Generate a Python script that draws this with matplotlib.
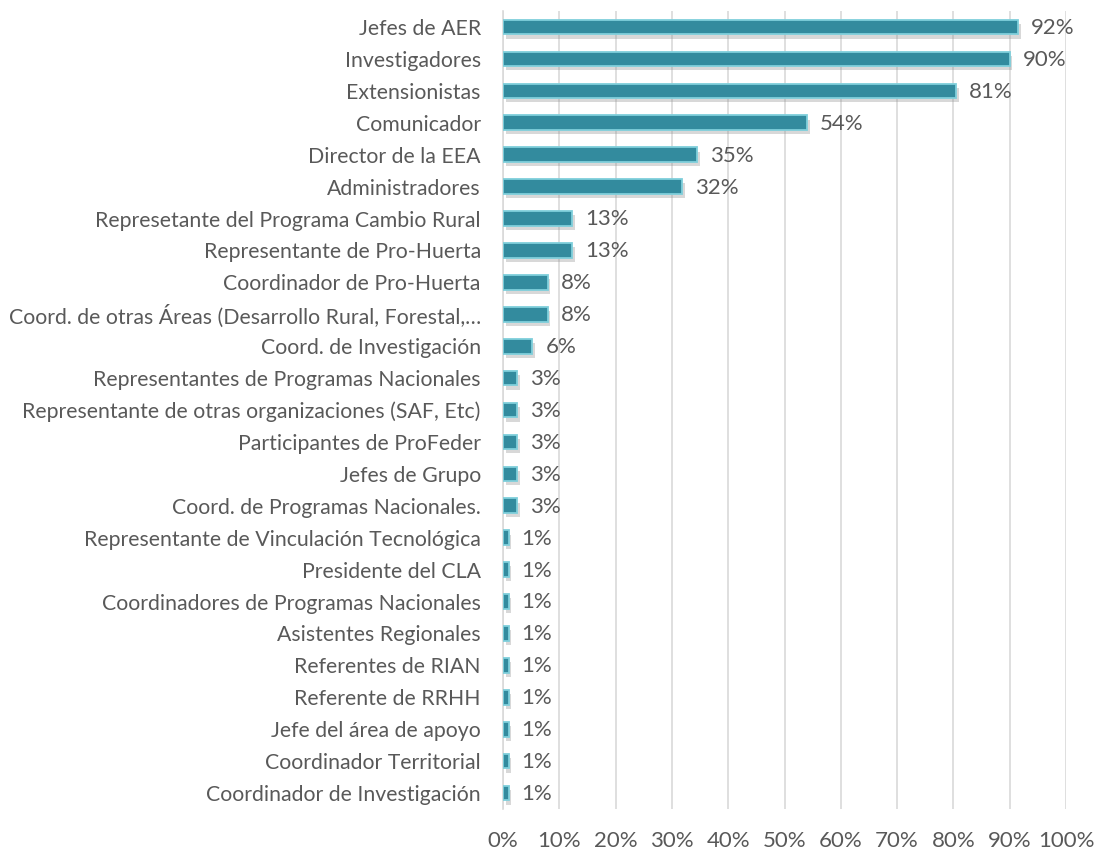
import matplotlib
matplotlib.use("Agg")
import matplotlib.pyplot as plt
import matplotlib.patheffects as pe
from matplotlib.ticker import PercentFormatter

categories = [
    "Jefes de AER", "Investigadores", "Extensionistas", "Comunicador",
    "Director de la EEA", "Administradores",
    "Represetante del Programa Cambio Rural", "Representante de Pro-Huerta",
    "Coordinador de Pro-Huerta",
    "Coord. de otras Áreas (Desarrollo Rural, Forestal,…",
    "Coord. de Investigación", "Representantes de Programas Nacionales",
    "Representante de otras organizaciones (SAF, Etc)",
    "Participantes de ProFeder", "Jefes de Grupo",
    "Coord. de Programas Nacionales.",
    "Representante de Vinculación Tecnológica", "Presidente del CLA",
    "Coordinadores de Programas Nacionales", "Asistentes Regionales",
    "Referentes de RIAN", "Referente de RRHH", "Jefe del área de apoyo",
    "Coordinador Territorial", "Coordinador de Investigación",
]
values = [92, 90, 81, 54, 35, 32, 13, 13, 8, 8, 6, 3, 3, 3, 3, 3,
          1, 1, 1, 1, 1, 1, 1, 1, 1]
bar_values = [91.5, 90, 80.5, 54, 34.5, 31.8, 12.3, 12.3, 7.9, 7.9, 5.2, 2.5,
              2.5, 2.5, 2.5, 2.5, 1, 1, 1, 1, 1, 1, 1, 1, 1]

plt.rcParams["font.family"] = ["Lato", "DejaVu Sans"]
text_color = "#595959"
fig = plt.figure(figsize=(11, 8.52), dpi=100)
ax = fig.add_axes([0.4573, 0.0505, 0.5118, 0.9365])

ypos = list(range(len(categories)))
bars = ax.barh(ypos, bar_values, height=0.46, color="#338B9E",
               edgecolor="#7FCFDB", linewidth=1.3, zorder=3)
for b in bars:
    b.set_path_effects([pe.SimplePatchShadow(offset=(2, -3), shadow_rgbFace="#909090", alpha=0.35), pe.Normal()])

for y, bv, v in zip(ypos, bar_values, values):
    ax.text(bv + 2.3, y + 0.03, f"{v}%", va="center", ha="left", fontsize=16,
            color=text_color, zorder=4)

ax.set_ylim(len(categories) - 0.5, -0.5)
ax.set_xlim(0, 100)
ax.set_xticks(range(0, 101, 10))
ax.xaxis.set_major_formatter(PercentFormatter(decimals=0))
ax.set_yticks(ypos)
ax.set_yticklabels(categories)
ax.tick_params(axis="y", length=0, pad=16, labelsize=15.3, labelcolor=text_color)
ax.tick_params(axis="x", length=0, pad=16, labelsize=16, labelcolor=text_color)
ax.grid(axis="x", color="#D9D9D9", linewidth=1.2, zorder=0)
for s in ["top", "right", "bottom"]:
    ax.spines[s].set_visible(False)
ax.spines["left"].set_color("#D9D9D9")
ax.spines["left"].set_linewidth(1.2)

fig.savefig("out.png", dpi=100)
